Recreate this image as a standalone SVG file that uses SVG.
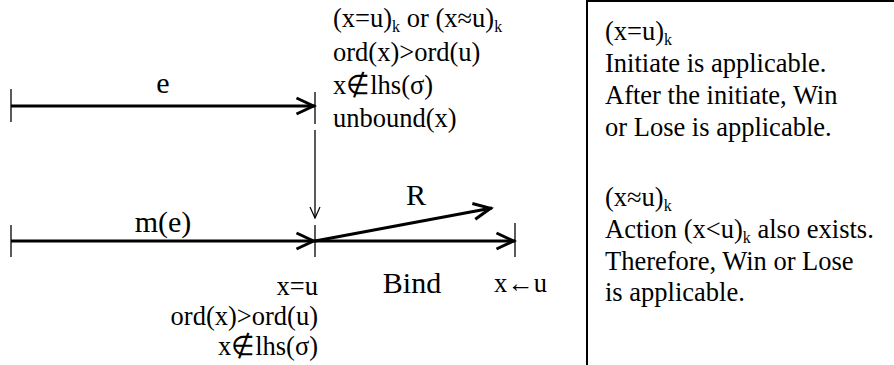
<svg xmlns="http://www.w3.org/2000/svg" width="894" height="365" viewBox="0 0 894 365" font-family="'Liberation Serif', 'Times New Roman', serif">
<style>
text{font-family:"Liberation Serif","Times New Roman",serif;fill:#000}
.big{font-size:30px}
.t{font-size:26.5px}
.sub{font-size:16px}
.thick{stroke:#000;stroke-width:3;fill:none}
.thin{stroke:#000;stroke-width:1.3;fill:none}
</style>
<defs>
<marker id="chev" markerUnits="userSpaceOnUse" viewBox="-20 -10 24 20" refX="1.5" refY="0" markerWidth="24" markerHeight="20" orient="auto">
<path d="M-17,-8 L0,0 L-17,8" fill="none" stroke="#000" stroke-width="3"/>
</marker>
<marker id="vee" markerUnits="userSpaceOnUse" viewBox="-14 -7 16 14" refX="0" refY="0" markerWidth="16" markerHeight="14" orient="auto">
<path d="M-11,-5 L0,0 L-11,5" fill="none" stroke="#000" stroke-width="1.2"/>
</marker>
</defs>
<g id="ticks">
<line class="thin" x1="11" y1="89" x2="11" y2="122"/>
<line class="thin" x1="315" y1="92" x2="315" y2="124"/>
<line class="thin" x1="11" y1="225" x2="11" y2="257"/>
<line class="thin" x1="315" y1="225" x2="315" y2="257"/>
<line class="thin" x1="515" y1="223" x2="515" y2="257"/>
</g>
<g id="connectors">
<line class="thick" x1="11" y1="106" x2="315" y2="106" marker-end="url(#chev)"/>
<line class="thick" x1="11" y1="241" x2="315" y2="241" marker-end="url(#chev)"/>
<line class="thick" x1="315" y1="241" x2="515" y2="241" marker-end="url(#chev)"/>
<line class="thick" x1="315" y1="241" x2="492" y2="208" marker-end="url(#chev)"/>
<line class="thin" x1="315" y1="130" x2="315" y2="218" marker-end="url(#vee)"/>
</g>
<g id="label-e"><text class="big" x="163" y="93" text-anchor="middle">e</text></g>
<g id="label-me"><text class="big" x="163" y="232" text-anchor="middle">m(e)</text></g>
<g id="label-R"><text class="big" x="416" y="205" text-anchor="middle">R</text></g>
<g id="label-bind"><text class="big" x="412" y="293" text-anchor="middle">Bind</text></g>
<g id="label-xu"><text class="t" x="494" y="292">x←u</text></g>
<g id="conditions-top">
<text class="t" x="333" y="27">(x=u)<tspan class="sub" baseline-shift="-4.5">k</tspan> or (x≈u)<tspan class="sub" baseline-shift="-4.5">k</tspan></text>
<text class="t" x="333" y="61">ord(x)&gt;ord(u)</text>
<text class="t" x="333" y="94">x∉lhs(σ)</text>
<text class="t" x="333" y="127">unbound(x)</text>
</g>
<g id="conditions-bottom">
<text class="t" x="318" y="295" text-anchor="end">x=u</text>
<text class="t" x="318" y="325" text-anchor="end">ord(x)&gt;ord(u)</text>
<text class="t" x="318" y="355" text-anchor="end">x∉lhs(σ)</text>
</g>
<g id="note-box">
<path d="M587,366 V1 H896" fill="none" stroke="#000" stroke-width="2"/>
<text class="t" x="605" y="40">(x=u)<tspan class="sub" baseline-shift="-4.5">k</tspan></text>
<text class="t" x="605" y="72">Initiate is applicable.</text>
<text class="t" x="605" y="104">After the initiate, Win</text>
<text class="t" x="605" y="136">or Lose is applicable.</text>
<text class="t" x="605" y="206">(x≈u)<tspan class="sub" baseline-shift="-4.5">k</tspan></text>
<text class="t" x="605" y="238">Action (x&lt;u)<tspan class="sub" baseline-shift="-4.5">k</tspan> also exists.</text>
<text class="t" x="605" y="270">Therefore, Win or Lose</text>
<text class="t" x="605" y="301">is applicable.</text>
</g>
</svg>
